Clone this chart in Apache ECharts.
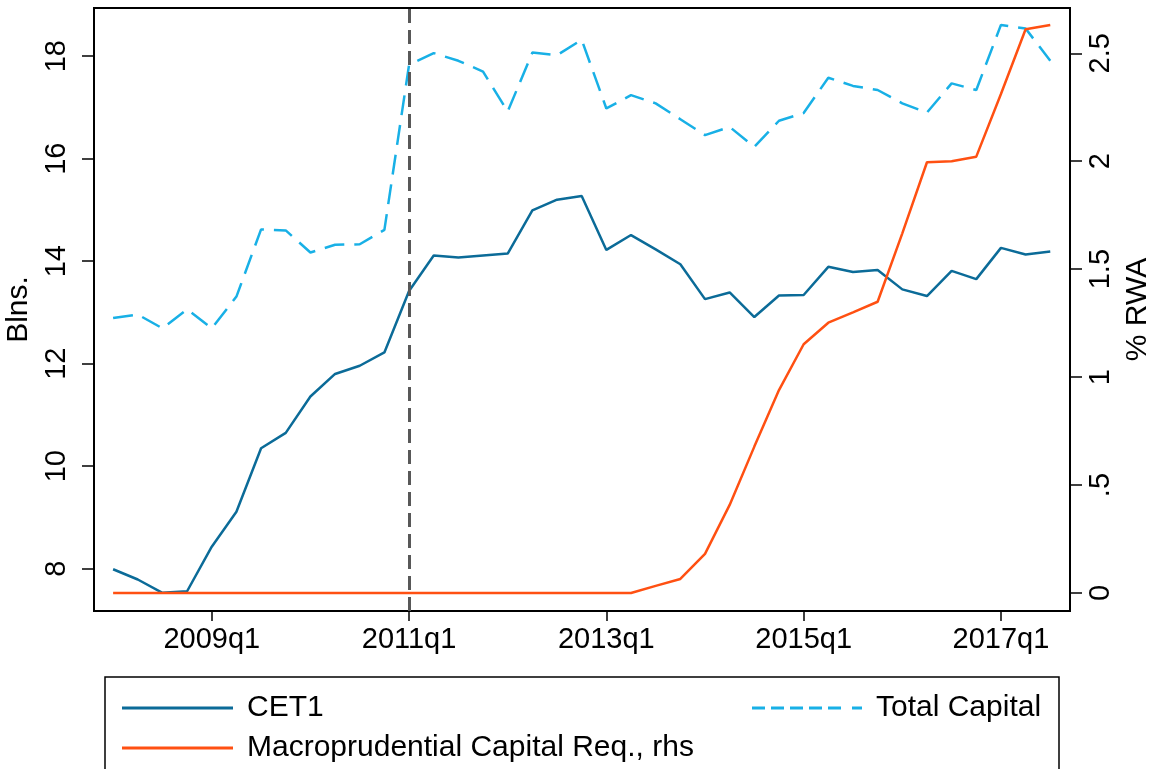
<!DOCTYPE html>
<html>
<head>
<meta charset="utf-8">
<title>Capital</title>
<script src="https://cdn.jsdelivr.net/npm/echarts@6.0.0/dist/echarts.min.js"></script>
<style>
  html, body { margin: 0; padding: 0; background: #fff; }
  #main { width: 1152px; height: 769px; }
</style>
</head>
<body>
<div id="main"></div>
<script>
// quarters 2008q1 .. 2017q3 (index 0..38)
var quarters = [
  '2008q1','2008q2','2008q3','2008q4','2009q1','2009q2','2009q3','2009q4',
  '2010q1','2010q2','2010q3','2010q4','2011q1','2011q2','2011q3','2011q4',
  '2012q1','2012q2','2012q3','2012q4','2013q1','2013q2','2013q3','2013q4',
  '2014q1','2014q2','2014q3','2014q4','2015q1','2015q2','2015q3','2015q4',
  '2016q1','2016q2','2016q3','2016q4','2017q1','2017q2','2017q3'
];

// Blns.
var cet1 = [7.99, 7.79, 7.53, 7.56, 8.43, 9.11, 10.35, 10.65, 11.36, 11.80,
  11.96, 12.22, 13.42, 14.11, 14.07, 14.11, 14.15, 14.99, 15.20, 15.27,
  14.22, 14.51, 14.23, 13.94, 13.26, 13.39, 12.91, 13.33, 13.34, 13.89,
  13.79, 13.83, 13.45, 13.32, 13.81, 13.65, 14.26, 14.13, 14.19];

var totalCapital = [12.89, 12.96, 12.69, 13.06, 12.69, 13.31, 14.62, 14.60, 14.17, 14.32,
  14.33, 14.61, 17.83, 18.06, 17.91, 17.70, 16.92, 18.07, 18.02, 18.32,
  16.98, 17.24, 17.08, 16.77, 16.46, 16.62, 16.23, 16.74, 16.89, 17.58,
  17.42, 17.34, 17.08, 16.90, 17.47, 17.34, 18.61, 18.54, 17.91];

// % RWA, right axis
var macroReq = [0, 0, 0, 0, 0, 0, 0, 0, 0, 0,
  0, 0, 0, 0, 0, 0, 0, 0, 0, 0,
  0, 0, 0.033, 0.065, 0.181, 0.408, 0.678, 0.940, 1.152, 1.252,
  1.30, 1.349, 1.666, 1.995, 2.00, 2.021, 2.311, 2.611, 2.631];

// ticks
var xTickLabels = ['2009q1', '2011q1', '2013q1', '2015q1', '2017q1'];
var leftTicks = [8, 10, 12, 14, 16, 18];
var rightTicks = [0, 0.5, 1, 1.5, 2, 2.5];
var rightTickLabels = ['0', '.5', '1', '1.5', '2', '2.5'];
var eventQuarter = '2011q1';

var xTicks = xTickLabels.map(function (q) { return quarters.indexOf(q); });

function pairs(arr) {
  return arr.map(function (v, i) { return [i, v]; });
}

var FONT = 'Liberation Sans';
var C_CET1 = '#0b6b98';
var C_TOTAL = '#18b0e6';
var C_MACRO = '#ff5012';

var myChart = echarts.init(document.getElementById('main'), null, { renderer: 'canvas' });

var option = {
  animation: false,
  backgroundColor: '#fff',
  grid: {
    left: 94, right: 82, top: 8, bottom: 158,
    containLabel: false,
    outerBoundsMode: 'none',
    show: true, borderColor: '#000', borderWidth: 2, backgroundColor: 'transparent'
  },
  xAxis: {
    type: 'value',
    min: -0.775,
    max: 38.8,
    splitLine: { show: false },
    axisLine: { onZero: false, lineStyle: { color: '#000', width: 2 } },
    axisTick: { customValues: xTicks, length: 10, lineStyle: { color: '#000', width: 1.5 } },
    axisLabel: {
      customValues: xTicks,
      margin: 14,
      color: '#000',
      fontFamily: FONT,
      fontSize: 29,
      formatter: function (v) { return quarters[Math.round(v)]; }
    }
  },
  yAxis: [{
    type: 'value',
    min: 7.175,
    max: 18.94,
    name: 'Blns.',
    nameLocation: 'middle',
    nameRotate: 90,
    nameGap: 51,
    nameTextStyle: { color: '#000', fontFamily: FONT, fontSize: 30 },
    splitLine: { show: false },
    axisLine: { show: true, onZero: false, lineStyle: { color: '#000', width: 2 } },
    axisTick: { show: true, customValues: leftTicks, length: 12, lineStyle: { color: '#000', width: 1.5 } },
    axisLabel: {
      customValues: leftTicks,
      rotate: 90,
      margin: 23,
      color: '#000',
      fontFamily: FONT,
      fontSize: 29
    }
  }, {
    type: 'value',
    position: 'right',
    min: -0.0834,
    max: 2.7096,
    name: '% RWA',
    nameLocation: 'middle',
    nameRotate: 90,
    nameGap: 46,
    nameTextStyle: { color: '#000', fontFamily: FONT, fontSize: 30 },
    splitLine: { show: false },
    axisLine: { show: true, onZero: false, lineStyle: { color: '#000', width: 2 } },
    axisTick: { show: true, customValues: rightTicks, length: 12, lineStyle: { color: '#000', width: 1.5 } },
    axisLabel: {
      customValues: rightTicks,
      rotate: 90,
      margin: 16,
      color: '#000',
      fontFamily: FONT,
      fontSize: 29,
      formatter: function (v) {
        var k = rightTicks.indexOf(Math.round(v * 10) / 10);
        return k >= 0 ? rightTickLabels[k] : '';
      }
    }
  }],
  legend: [{
    orient: 'vertical',
    left: 117,
    top: 688,
    itemWidth: 111,
    itemHeight: 3,
    itemGap: 10,
    textStyle: { color: '#000', fontFamily: FONT, fontSize: 30, lineHeight: 30, padding: [0, 0, 0, 9] },
    data: [
      { name: 'CET1', icon: 'rect' },
      { name: 'Macroprudential Capital Req., rhs', icon: 'rect' }
    ]
  }, {
    orient: 'vertical',
    left: 747,
    top: 688,
    itemWidth: 110,
    itemHeight: 3,
    textStyle: { color: '#000', fontFamily: FONT, fontSize: 30, lineHeight: 30, padding: [0, 0, 0, 9] },
    data: [{
      name: 'Total Capital',
      icon: 'path://M0,0h13v3h-13z M19,0h13v3h-13z M38,0h13v3h-13z M57,0h13v3h-13z M76,0h13v3h-13z M100,0h10v3h-10z'
    }]
  }],
  graphic: [{
    type: 'rect',
    shape: { x: 105, y: 677, width: 954, height: 130 },
    style: { fill: null, stroke: '#000', lineWidth: 1.5 },
    silent: true
  }],
  series: [{
    name: 'CET1',
    type: 'line',
    yAxisIndex: 0,
    data: pairs(cet1),
    symbol: 'none',
    color: C_CET1,
    lineStyle: { color: C_CET1, width: 2.5 },
    markLine: {
      silent: true,
      symbol: 'none',
      label: { show: false },
      lineStyle: { color: '#585858', width: 3, type: [14, 7] },
      data: [{ xAxis: quarters.indexOf(eventQuarter) }]
    }
  }, {
    name: 'Total Capital',
    type: 'line',
    yAxisIndex: 0,
    data: pairs(totalCapital),
    symbol: 'none',
    color: C_TOTAL,
    lineStyle: { color: C_TOTAL, width: 2.5, type: [20, 10] }
  }, {
    name: 'Macroprudential Capital Req., rhs',
    type: 'line',
    yAxisIndex: 1,
    data: pairs(macroReq),
    symbol: 'none',
    color: C_MACRO,
    lineStyle: { color: C_MACRO, width: 2.5 }
  }]
};

myChart.setOption(option);
</script>
</body>
</html>
